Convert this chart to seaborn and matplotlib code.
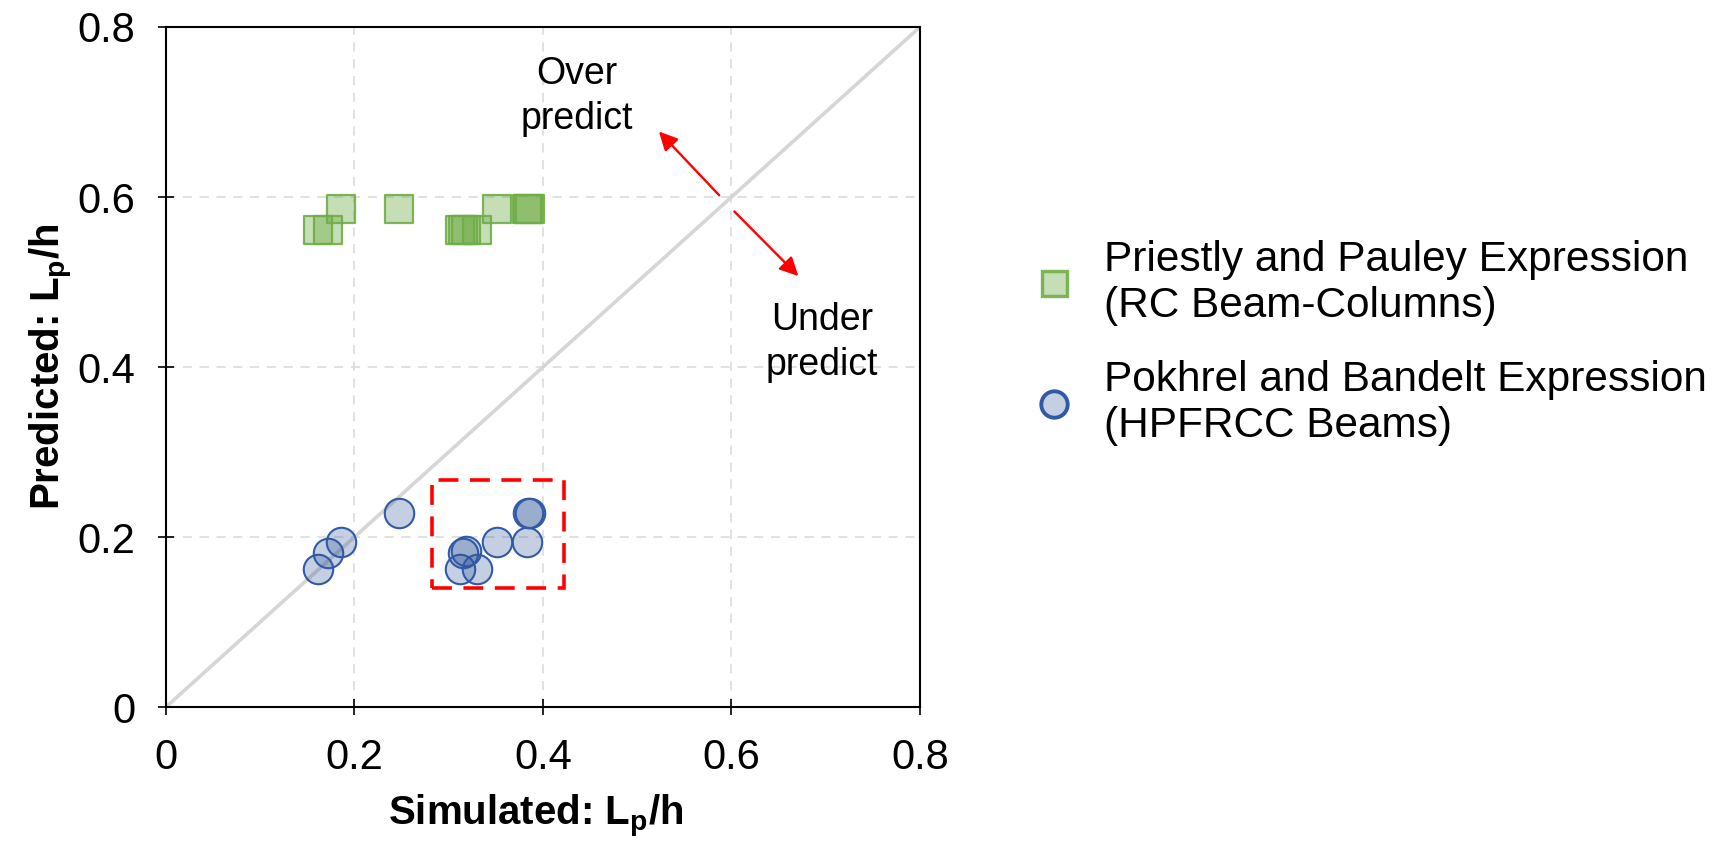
import matplotlib
matplotlib.use("Agg")
import matplotlib.pyplot as plt
import seaborn as sns
import pandas as pd
from matplotlib.lines import Line2D
from matplotlib.patches import Rectangle

# ---- data ----
simulated = [0.161, 0.172, 0.186, 0.247, 0.312, 0.315, 0.318, 0.330, 0.351, 0.383, 0.384, 0.386]
priestly_pred = [0.561, 0.561, 0.586, 0.586, 0.561, 0.561, 0.561, 0.561, 0.586, 0.586, 0.586, 0.586]
pokhrel_pred = [0.162, 0.181, 0.194, 0.228, 0.162, 0.181, 0.183, 0.162, 0.194, 0.194, 0.228, 0.228]
tick_vals = [0, 0.2, 0.4, 0.6, 0.8]
tick_labels = ["0", "0.2", "0.4", "0.6", "0.8"]
series_labels = ["Priestly and Pauley Expression\n(RC Beam-Columns)",
                 "Pokhrel and Bandelt Expression\n(HPFRCC Beams)"]

sns.set_theme(style="white")
plt.rcParams['font.family'] = ['Liberation Sans', 'DejaVu Sans']
plt.rcParams['mathtext.fontset'] = 'custom'
plt.rcParams['mathtext.rm'] = 'Liberation Sans'
plt.rcParams['mathtext.bf'] = 'Liberation Sans:bold'
plt.rcParams['mathtext.it'] = 'Liberation Sans:italic'
for k in ['text.color', 'axes.labelcolor', 'xtick.color', 'ytick.color']:
    plt.rcParams[k] = 'black'

fig = plt.figure(figsize=(17.18, 8.41), dpi=100)
ax = fig.add_axes([0.0966, 0.1593, 0.4389, 0.8086])

df_pp = pd.DataFrame({"sim": simulated, "pred": priestly_pred})
df_pb = pd.DataFrame({"sim": simulated, "pred": pokhrel_pred})

green_face = (112/255, 173/255, 71/255, 0.40)
green_edge = (112/255, 173/255, 71/255, 0.90)
blue_face = (47/255, 85/255, 151/255, 0.28)
blue_edge = (48/255, 90/255, 168/255, 1.0)

# 1:1 line
ax.plot(tick_vals, tick_vals, color="#d6d6d6", lw=2.6, zorder=2)

sns.scatterplot(data=df_pp, x="sim", y="pred", ax=ax, marker="s", s=410,
                color=green_face, edgecolor=green_edge, linewidth=1.6, zorder=3, legend=False)
sns.scatterplot(data=df_pb, x="sim", y="pred", ax=ax, marker="o", s=450,
                color=blue_face, edgecolor=blue_edge, linewidth=1.5, zorder=3, legend=False)

# dashed red box
ax.add_patch(Rectangle((0.282, 0.140), 0.140, 0.127, fill=False, edgecolor="#ff0000",
                       lw=2.6, linestyle=(0, (5.5, 3.2)), zorder=4))

# arrows
ax.annotate("", xy=(0.523, 0.677), xytext=(0.587, 0.602),
            arrowprops=dict(arrowstyle="-|>", color="red", lw=1.7, mutation_scale=28,
                            shrinkA=0, shrinkB=0))
ax.annotate("", xy=(0.671, 0.507), xytext=(0.603, 0.583),
            arrowprops=dict(arrowstyle="-|>", color="red", lw=1.7, mutation_scale=28,
                            shrinkA=0, shrinkB=0))
ax.text(0.436, 0.718, "Over\npredict", ha="center", va="center", fontsize=27,
        linespacing=1.3)
ax.text(0.696, 0.429, "Under\npredict", ha="center", va="center", fontsize=27,
        linespacing=1.3)

ax.set_xlim(0, 0.8)
ax.set_ylim(0, 0.8)
ax.set_xticks(tick_vals)
ax.set_xticklabels(tick_labels)
ax.set_yticks(tick_vals)
ax.set_yticklabels(tick_labels)
ax.tick_params(axis="both", direction="inout", length=12, width=1.2, color="black",
               labelsize=30, pad=16)
ax.tick_params(axis="both", which="both", bottom=True, left=True)

for sp in ax.spines.values():
    sp.set_color("black")
    sp.set_linewidth(1.5)

ax.grid(True, color="#d9d9d9", linestyle=(0, (6, 5)), lw=1.1)
ax.set_axisbelow(True)

ax.set_xlabel(r"Simulated: L$_{\mathbf{p}}$/h", fontsize=29, fontweight="bold")
ax.set_ylabel(r"Predicted: L$_{\mathbf{p}}$/h", fontsize=29, fontweight="bold")
ax.xaxis.set_label_coords(0.49, -0.126)
ax.yaxis.set_label_coords(-0.121, 0.50)

handles = [
    Line2D([], [], marker="s", linestyle="none", markersize=18, markerfacecolor=green_face,
           markeredgecolor=green_edge, markeredgewidth=2.4),
    Line2D([], [], marker="o", linestyle="none", markersize=19, markerfacecolor=blue_face,
           markeredgecolor=blue_edge, markeredgewidth=2.8),
]
fig.legend(handles, series_labels, loc="upper left", bbox_to_anchor=(0.599, 0.715),
           frameon=False, fontsize=30.5, handletextpad=0.58, labelspacing=0.8,
           handlelength=1.2, borderpad=0, borderaxespad=0)

fig.savefig("out.png", dpi=100)
